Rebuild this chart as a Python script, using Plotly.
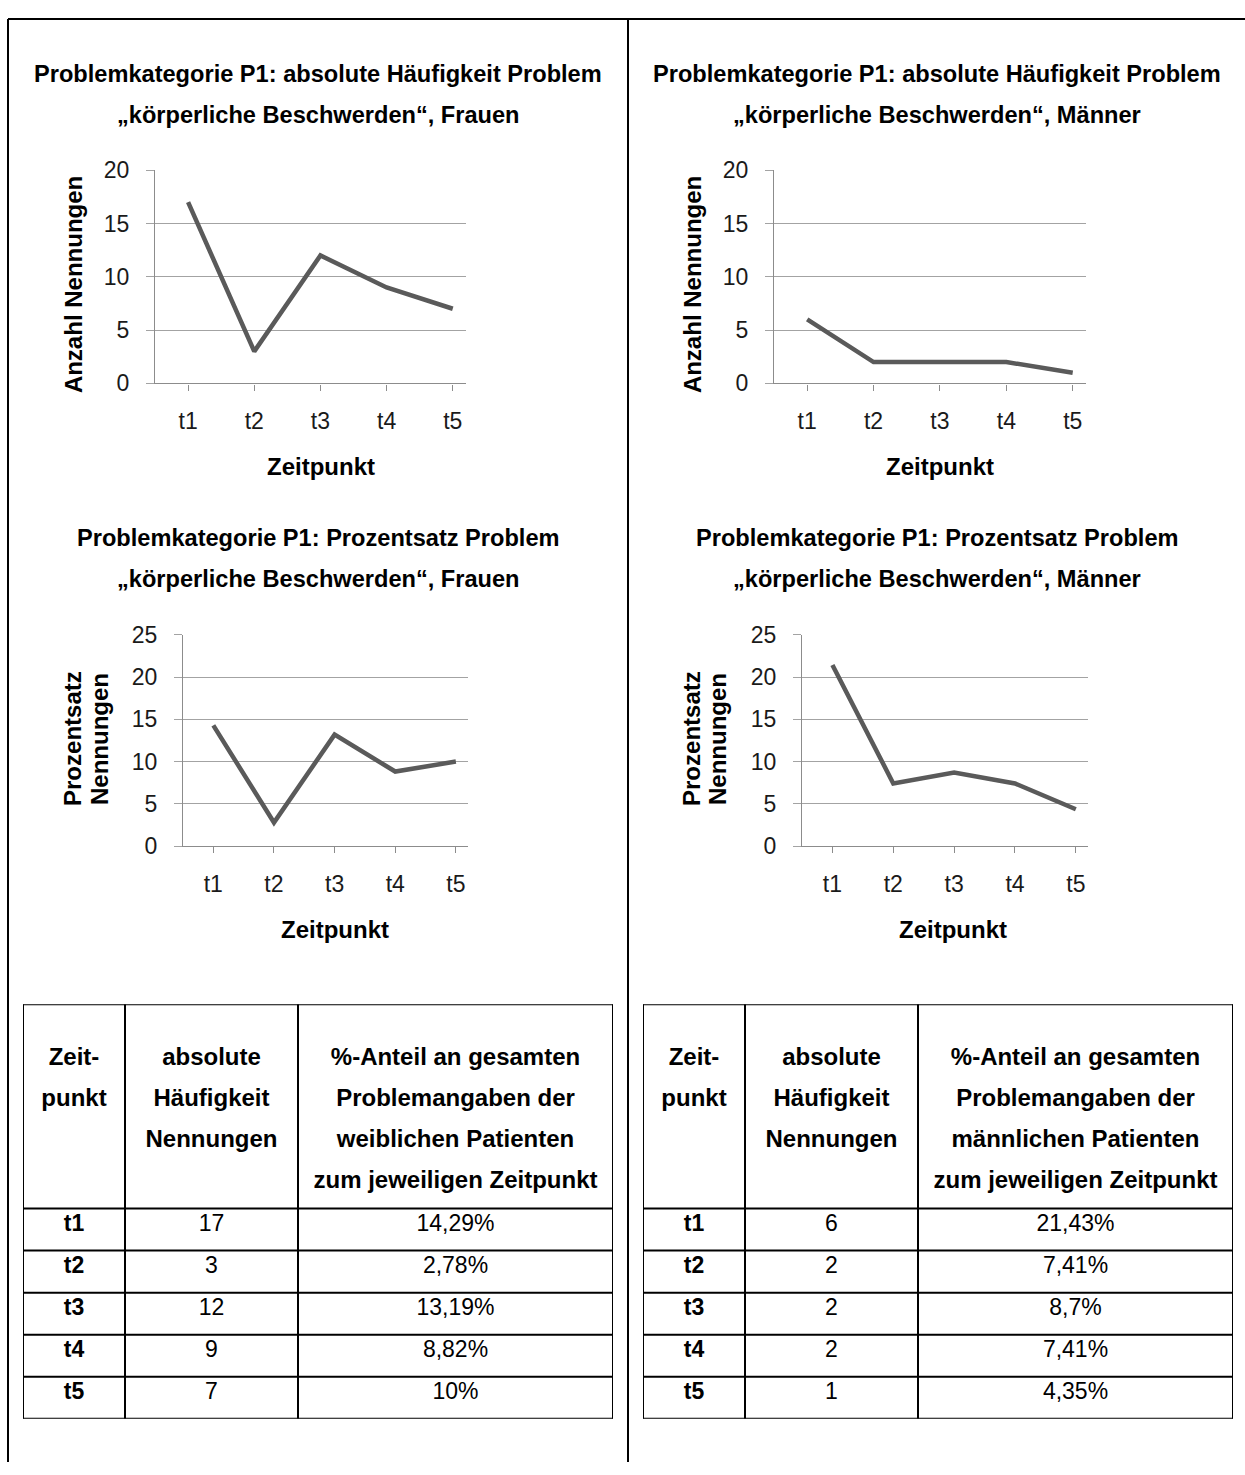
import plotly.graph_objects as go

# ---------------- data ----------------
zeitpunkte = ["t1", "t2", "t3", "t4", "t5"]
frauen_abs = [17, 3, 12, 9, 7]
maenner_abs = [6, 2, 2, 2, 1]
frauen_pct = [14.29, 2.78, 13.19, 8.82, 10]
maenner_pct = [21.43, 7.41, 8.7, 7.41, 4.35]

frauen_pct_labels = ["14,29%", "2,78%", "13,19%", "8,82%", "10%"]
maenner_pct_labels = ["21,43%", "7,41%", "8,7%", "7,41%", "4,35%"]

titel_abs = "Problemkategorie P1: absolute Häufigkeit Problem"
titel_pct = "Problemkategorie P1: Prozentsatz Problem"
untertitel_f = "„körperliche Beschwerden“, Frauen"
untertitel_m = "„körperliche Beschwerden“, Männer"

header_col1 = ["Zeit-", "punkt"]
header_col2 = ["absolute", "Häufigkeit", "Nennungen"]
header_col3_f = ["%-Anteil an gesamten", "Problemangaben der", "weiblichen Patienten", "zum jeweiligen Zeitpunkt"]
header_col3_m = ["%-Anteil an gesamten", "Problemangaben der", "männlichen Patienten", "zum jeweiligen Zeitpunkt"]

# ---------------- layout helpers ----------------
W, H = 1245, 1475
FONT = "Liberation Sans, Arial, sans-serif"
LINE_COLOR = "#5a5a5a"
GRID = "#a3a3a3"
AXIS = "#8c8c8c"
TXT = "#1a1a1a"


def xp(px):
    return px / W


def yp(py):
    return 1 - py / H


fig = go.Figure()

charts = [
    # (values, x-domain px, y-domain px, y max)
    (frauen_abs, (155, 466), (160, 377), 20),
    (maenner_abs, (774, 1086), (160, 377), 20),
    (frauen_pct, (183, 468), (633, 848), 25),
    (maenner_pct, (802, 1088), (633, 848), 25),
]

layout_axes = {}
for i, (vals, (x0, x1), (y0, y1), ymax) in enumerate(charts, start=1):
    xa = "xaxis" if i == 1 else f"xaxis{i}"
    ya = "yaxis" if i == 1 else f"yaxis{i}"
    xr = "x" if i == 1 else f"x{i}"
    yr = "y" if i == 1 else f"y{i}"
    fig.add_trace(go.Scatter(
        x=zeitpunkte, y=vals, mode="lines", xaxis=xr, yaxis=yr,
        line=dict(color=LINE_COLOR, width=4.5), hoverinfo="skip", showlegend=False,
    ))
    layout_axes[xa] = dict(
        domain=[xp(x0), xp(x1)], anchor=yr, type="category", range=[-0.5, 4.2],
        showgrid=False, zeroline=False, showline=True, linecolor=AXIS, linewidth=1.3,
        ticks="outside", ticklen=6, tickcolor=AXIS, tickwidth=1.3,
        tickfont=dict(family=FONT, size=23, color=TXT), ticklabelstandoff=11,
        fixedrange=True,
    )
    layout_axes[ya] = dict(
        domain=[yp(y1), yp(y0)], anchor=xr, range=[0, ymax], dtick=5, tick0=0,
        showgrid=True, gridcolor=GRID, gridwidth=1.3, zeroline=False,
        showline=True, linecolor=AXIS, linewidth=1.3,
        ticks="outside", ticklen=8, tickcolor=GRID, tickwidth=1.3,
        tickfont=dict(family=FONT, size=23, color=TXT), ticklabelstandoff=12,
        fixedrange=True,
    )

# ---------------- tables on hidden axes ----------------
TAB_W, TAB_H = 590, 422
COL_EDGES = [0, 102, 275, 590]
HEADER_H = 208
ROW_H = (TAB_H - HEADER_H) / 5
ROW_EDGES = [0, HEADER_H] + [HEADER_H + ROW_H * k for k in range(1, 6)]
HEADER_LINES_Y = [56, 97.5, 139, 180.5]
col_centers = [(COL_EDGES[k] + COL_EDGES[k + 1]) / 2 for k in range(3)]

tables = [
    (5, 23, frauen_abs, frauen_pct_labels, header_col3_f),
    (6, 643, maenner_abs, maenner_pct_labels, header_col3_m),
]
shapes = []
for idx, left, abs_vals, pct_labels, head3 in tables:
    xr, yr = f"x{idx}", f"y{idx}"
    layout_axes[f"xaxis{idx}"] = dict(domain=[xp(left), xp(left + TAB_W)], anchor=yr,
                                      range=[0, TAB_W], visible=False, fixedrange=True)
    layout_axes[f"yaxis{idx}"] = dict(domain=[yp(1009 + TAB_H), yp(1009)], anchor=xr,
                                      range=[TAB_H, 0], visible=False, fixedrange=True)
    for xe in COL_EDGES:
        shapes.append(dict(type="line", xref=xr, yref=yr, x0=xe, x1=xe, y0=0, y1=TAB_H,
                           line=dict(color="black", width=2)))
    for ye in ROW_EDGES:
        shapes.append(dict(type="line", xref=xr, yref=yr, x0=0, x1=TAB_W, y0=ye, y1=ye,
                           line=dict(color="black", width=2)))
    hx, hy, ht = [], [], []
    for c, lines in enumerate([header_col1, header_col2, head3]):
        for j, t in enumerate(lines):
            hx.append(col_centers[c])
            hy.append(HEADER_LINES_Y[j])
            ht.append(f"<b>{t}</b>")
    fig.add_trace(go.Scatter(x=hx, y=hy, text=ht, mode="text", xaxis=xr, yaxis=yr,
                             textposition="middle center", hoverinfo="skip", showlegend=False,
                             textfont=dict(family=FONT, size=24, color="black")))
    bx, by, bt = [], [], []
    for r in range(5):
        yc = ROW_EDGES[r + 1] + 17
        for c, t in enumerate([f"<b>{zeitpunkte[r]}</b>", str(abs_vals[r]), pct_labels[r]]):
            bx.append(col_centers[c])
            by.append(yc)
            bt.append(t)
    fig.add_trace(go.Scatter(x=bx, y=by, text=bt, mode="text", xaxis=xr, yaxis=yr,
                             textposition="middle center", hoverinfo="skip", showlegend=False,
                             textfont=dict(family=FONT, size=23, color="black")))

# ---------------- outer frame ----------------
frame = dict(color="black", width=2)
shapes.append(dict(type="line", xref="paper", yref="paper", x0=xp(8), x1=xp(1245), y0=yp(6), y1=yp(6), line=frame))
shapes.append(dict(type="line", xref="paper", yref="paper", x0=xp(8), x1=xp(8), y0=yp(6), y1=yp(1475), line=frame))
shapes.append(dict(type="line", xref="paper", yref="paper", x0=xp(628), x1=xp(628), y0=yp(6), y1=yp(1475), line=frame))

# ---------------- text annotations ----------------
annotations = []


def ann(text, x, y, size=24, bold=True, angle=0):
    annotations.append(dict(
        text=f"<b>{text}</b>" if bold else text, x=xp(x), y=yp(y), xref="paper", yref="paper",
        showarrow=False, xanchor="center", yanchor="middle", textangle=angle,
        font=dict(family=FONT, size=size, color="black"),
    ))


ann(titel_abs, 318, 62, size=23.6)
ann(untertitel_f, 318, 104, size=23.6)
ann(titel_abs, 937, 62, size=23.6)
ann(untertitel_m, 937, 104, size=23.6)
ann(titel_pct, 318, 534, size=23.6)
ann(untertitel_f, 318, 576, size=23.6)
ann(titel_pct, 937, 534, size=23.6)
ann(untertitel_m, 937, 576, size=23.6)

ann("Anzahl Nennungen", 73, 277, angle=-90)
ann("Anzahl Nennungen", 692, 277, angle=-90)
ann("Prozentsatz", 73, 739, angle=-90)
ann("Nennungen", 100, 739, angle=-90)
ann("Prozentsatz", 692, 739, angle=-90)
ann("Nennungen", 718, 739, angle=-90)

ann("Zeitpunkt", 321, 462)
ann("Zeitpunkt", 940, 462)
ann("Zeitpunkt", 335, 933)
ann("Zeitpunkt", 953, 933)

fig.update_layout(
    width=W, height=H, margin=dict(l=0, r=0, t=0, b=0),
    paper_bgcolor="white", plot_bgcolor="white", showlegend=False,
    shapes=shapes, annotations=annotations, font=dict(family=FONT),
    **layout_axes,
)

post = ("document.body.style.margin='0';document.body.style.padding='0';"
        "document.documentElement.style.overflow='hidden';")
fig.write_html("out.html", post_script=post, config={"displayModeBar": False})
